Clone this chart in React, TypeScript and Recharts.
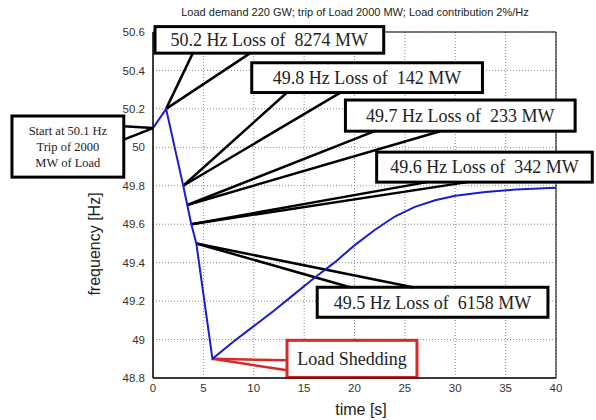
import {
  CartesianGrid,
  Line,
  LineChart,
  ReferenceArea,
  ReferenceLine,
  XAxis,
  YAxis,
} from "recharts";

// frequency response after the load trip
const times = [0, 1.3, 3.0, 3.4, 3.8, 4.3, 5.9, 8, 10, 12, 14, 16, 18, 20, 22, 24, 26, 28, 30, 33, 36, 40];
const freqs = [50.1, 50.2, 49.8, 49.7, 49.6, 49.5, 48.9, 48.99, 49.07, 49.15, 49.235, 49.32, 49.4, 49.49, 49.57, 49.64, 49.69, 49.725, 49.748, 49.768, 49.78, 49.79];

const timeTicks = [0, 5, 10, 15, 20, 25, 30, 35, 40];
const freqTicks = [48.8, 49, 49.2, 49.4, 49.6, 49.8, 50, 50.2, 50.4, 50.6];

// callout texts and the point of the curve they point at
const calloutLines = [
  ["Start at 50.1 Hz", "Trip of 2000", "MW of Load"],
  ["50.2 Hz Loss of  8274 MW"],
  ["49.8 Hz Loss of  142 MW"],
  ["49.7 Hz Loss of  233 MW"],
  ["49.6 Hz Loss of  342 MW"],
  ["49.5 Hz Loss of  6158 MW"],
  ["Load Shedding"],
];
const calloutTimes = [0, 1.3, 3.0, 3.4, 3.8, 4.3, 5.9];
const calloutFreqs = [50.1, 50.2, 49.8, 49.7, 49.6, 49.5, 48.9];

// box placement in axis units: [t1, t2, f1, f2] and wedge feet [[t, f], [t, f]]
const calloutBoxes = [
  { box: [-14, -2.9, 49.845, 50.163], feet: [[-2.9, 50.11], [-2.9, 50.04]], size: 12.5, color: "#000" },
  { box: [0.2, 22.9, 50.49, 50.628], feet: [[3.95, 50.49], [9.65, 50.49]], size: 18, color: "#000" },
  { box: [9.8, 32.7, 50.285, 50.44], feet: [[13.3, 50.285], [18.6, 50.285]], size: 18, color: "#000" },
  { box: [19.1, 41.9, 50.084, 50.246], feet: [[22.0, 50.084], [28.5, 50.084]], size: 18, color: "#000" },
  { box: [22.2, 43.6, 49.819, 49.975], feet: [[27.2, 49.819], [31.2, 49.819]], size: 18, color: "#000" },
  { box: [16.3, 39.2, 49.116, 49.272], feet: [[19.55, 49.272], [25.8, 49.272]], size: 18, color: "#000" },
  { box: [13.3, 26.2, 48.803, 48.996], feet: [[13.3, 48.892], [13.3, 48.84]], size: 18, color: "#d42a2a" },
];

const data = times.map((t, i) => ({ t, f: freqs[i] }));

const tickStyle = { fill: "#333", fontSize: 11.5, fontFamily: "Liberation Sans, Arial" };

function CalloutBox(props: any) {
  const { x, y, width, height, lines, size, color } = props;
  const lh = size * 1.25;
  const top = y + height / 2 - ((lines.length - 1) * lh) / 2;
  return (
    <g>
      <rect x={x} y={y} width={width} height={height} fill="#fff" stroke={color} strokeWidth={3} />
      <text
        x={x + width / 2}
        textAnchor="middle"
        fontFamily="Liberation Serif, Times New Roman, serif"
        fontSize={size}
        fill="#222"
      >
        {lines.map((s: string, i: number) => (
          <tspan key={i} x={x + width / 2} y={top + i * lh} dy="0.35em" style={{ whiteSpace: "pre" }}>
            {s}
          </tspan>
        ))}
      </text>
    </g>
  );
}

export default function App() {
  return (
    <div style={{ position: "absolute", left: 0, top: 0, width: 596, height: 420, background: "#fff" }}>
      <div
        style={{
          position: "absolute",
          left: 355,
          top: 6,
          transform: "translateX(-50%)",
          whiteSpace: "nowrap",
          fontFamily: "Liberation Sans, Arial",
          fontSize: 11,
          color: "#222",
        }}
      >
        Load demand 220 GW; trip of Load 2000 MW; Load contribution 2%/Hz
      </div>
      <LineChart width={596} height={420} data={data} margin={{ top: 32, right: 40, bottom: 12, left: 93 }}>
        <CartesianGrid stroke="#8a8a8a" strokeDasharray="1 2" />
        <XAxis
          dataKey="t"
          type="number"
          domain={[0, 40]}
          ticks={timeTicks}
          allowDataOverflow
          height={30}
          axisLine={{ stroke: "#000" }}
          tickLine={false}
          tick={tickStyle}
          tickMargin={0}
        />
        <YAxis
          dataKey="f"
          type="number"
          domain={[48.8, 50.6]}
          ticks={freqTicks}
          allowDataOverflow
          width={60}
          axisLine={{ stroke: "#000" }}
          tickLine={false}
          tick={tickStyle}
          tickMargin={2}
        />
        <ReferenceArea x1={0} x2={40} y1={48.8} y2={50.6} fill="none" stroke="#000" strokeWidth={1} />
        {calloutBoxes.map((c, i) =>
          c.feet.map((p, j) => (
            <ReferenceLine
              key={`w${i}-${j}`}
              segment={[
                { x: calloutTimes[i], y: calloutFreqs[i] },
                { x: p[0], y: p[1] },
              ]}
              stroke={c.color}
              strokeWidth={2.5}
              ifOverflow="visible"
            />
          ))
        )}
        <Line
          type="linear"
          dataKey="f"
          stroke="#1c1ccf"
          strokeWidth={2}
          dot={false}
          isAnimationActive={false}
        />
        {calloutBoxes.map((c, i) => (
          <ReferenceArea
            key={`b${i}`}
            x1={c.box[0]}
            x2={c.box[1]}
            y1={c.box[2]}
            y2={c.box[3]}
            ifOverflow="visible"
            shape={(p: any) => <CalloutBox {...p} lines={calloutLines[i]} size={c.size} color={c.color} />}
          />
        ))}
      </LineChart>
      <div
        style={{
          position: "absolute",
          left: 95,
          top: 244,
          transform: "translate(-50%, -50%) rotate(-90deg)",
          whiteSpace: "nowrap",
          fontFamily: "Liberation Sans, Arial",
          fontSize: 16,
          color: "#222",
        }}
      >
        frequency [Hz]
      </div>
      <div
        style={{
          position: "absolute",
          left: 361,
          top: 410,
          transform: "translate(-50%, -50%)",
          whiteSpace: "nowrap",
          fontFamily: "Liberation Sans, Arial",
          fontSize: 16,
          color: "#222",
        }}
      >
        time [s]
      </div>
    </div>
  );
}
